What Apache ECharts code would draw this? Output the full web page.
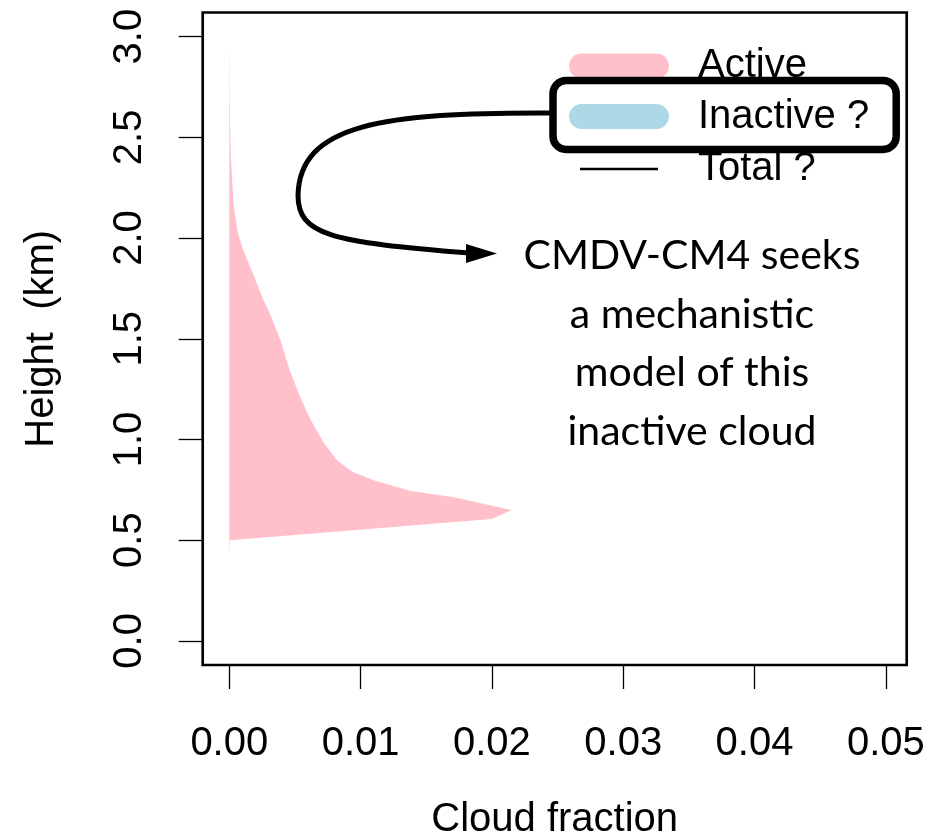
<!DOCTYPE html>
<html>
<head>
<meta charset="utf-8">
<script src="https://cdn.jsdelivr.net/npm/echarts@6/dist/echarts.min.js"></script>
<style>
  html, body { margin: 0; padding: 0; background: #fff; }
  #chart { width: 933px; height: 837px; }
</style>
</head>
<body>
<div id="chart"></div>
<script>
// Vertical profile of active cloud fraction (km above surface)
const heightKm = [0.45, 0.50, 0.605, 0.65, 0.714, 0.744, 0.798, 0.838, 0.897, 0.982,
  1.096, 1.21, 1.344, 1.493, 1.626, 1.691, 1.79, 1.855, 1.94, 2.023, 2.112, 2.187, 2.435, 2.70, 2.95];
const activeFrac = [0.00002, 0.00005, 0.0200, 0.0215, 0.0170, 0.0138, 0.0110, 0.0094, 0.0082, 0.0072,
  0.0062, 0.0054, 0.0046, 0.0039, 0.0031, 0.0026, 0.0020, 0.0016, 0.00107, 0.00066, 0.00043, 0.0003, 0.0001, 0.00003, 0.00001];

const xTicks = [0, 0.01, 0.02, 0.03, 0.04, 0.05];
const yTicks = [0, 0.5, 1.0, 1.5, 2.0, 2.5, 3.0];

const seriesNames = ['Active', 'Inactive ?', 'Total ?'];
const seriesColors = ['#FFC0CB', '#ADD8E6', '#000000'];

const noteLines = ['CMDV-CM4 seeks', 'a mechanistic', 'model of this', 'inactive cloud'];

const FONT = 'Liberation Sans, Arial, Helvetica, sans-serif';

// rounded bar icon with spare room on the right so the label sits further away
const barIcon = 'path://M0,0 M124,25 M12.5,0 L87.5,0 A12.5,12.5 0 0 1 87.5,25 L12.5,25 A12.5,12.5 0 0 1 12.5,0 Z';
const lineIcon = 'path://M0,0 M124,25 M11,11.25 L89,11.25 L89,13.75 L11,13.75 Z';

const chart = echarts.init(document.getElementById('chart'), null, { renderer: 'canvas' });

const option = {
  animation: false,
  backgroundColor: '#fff',
  grid: {
    left: 202.7, right: 26.3, top: 12.5, bottom: 172,
    outerBoundsMode: 'none',
    containLabel: false,
    show: true, borderColor: '#000', borderWidth: 2.7, backgroundColor: 'transparent'
  },
  xAxis: {
    type: 'value',
    min: -0.002026, max: 0.05159,
    name: 'Cloud fraction',
    nameLocation: 'middle',
    nameGap: 135,
    nameTextStyle: { fontSize: 40, fontFamily: FONT, color: '#000' },
    axisLine: { show: false, onZero: false },
    splitLine: { show: false },
    axisTick: { show: true, customValues: xTicks, length: 24, inside: false, lineStyle: { color: '#000', width: 1.3 } },
    axisLabel: {
      customValues: xTicks, margin: 59, fontSize: 40, fontFamily: FONT, color: '#000',
      formatter: v => v.toFixed(2)
    }
  },
  yAxis: {
    type: 'value',
    min: -0.12, max: 3.12,
    name: 'Height  (km)',
    nameLocation: 'middle',
    nameGap: 141,
    nameTextStyle: { fontSize: 40, fontFamily: FONT, color: '#000' },
    axisLine: { show: false, onZero: false },
    splitLine: { show: false },
    axisTick: { show: true, customValues: yTicks, length: 24, inside: false, lineStyle: { color: '#000', width: 1.3 } },
    axisLabel: {
      customValues: yTicks, rotate: 90, margin: 52.5, fontSize: 40, fontFamily: FONT, color: '#000',
      formatter: v => v.toFixed(1)
    }
  },
  legend: [
    {
      data: [
        { name: seriesNames[0], icon: barIcon },
        { name: seriesNames[2], icon: lineIcon }
      ],
      orient: 'vertical',
      left: 569, top: 46,
      padding: 0,
      itemWidth: 124, itemHeight: 25, itemGap: 63,
      selectedMode: false,
      z: 3,
      textStyle: { fontSize: 40, fontFamily: FONT, color: '#000' }
    },
    {
      data: [{ name: seriesNames[1], icon: barIcon }],
      orient: 'vertical',
      left: 553, top: 80.5,
      padding: [16, 27, 13, 16],
      itemWidth: 124, itemHeight: 25,
      selectedMode: false,
      backgroundColor: '#fff',
      borderColor: '#000', borderWidth: 7.5, borderRadius: 13,
      z: 8,
      textStyle: { fontSize: 40, fontFamily: FONT, color: '#000' }
    }
  ],
  graphic: [
    {
      type: 'bezierCurve',
      z: 5,
      shape: { x1: 553, y1: 113, cpx1: 380, cpy1: 112, cpx2: 300, cpy2: 125, x2: 298, y2: 195 },
      style: { fill: null, stroke: '#000', lineWidth: 5 }
    },
    {
      type: 'bezierCurve',
      z: 5,
      shape: { x1: 298, y1: 195, cpx1: 298, cpy1: 235, cpx2: 330, cpy2: 242, x2: 470, y2: 253 },
      style: { fill: null, stroke: '#000', lineWidth: 5 }
    },
    {
      type: 'polygon',
      z: 5,
      shape: { points: [[497, 253.5], [466, 244], [466, 263]] },
      style: { fill: '#000' }
    },
    {
      type: 'text',
      z: 5,
      x: 692, y: 344,
      style: {
        text: noteLines.join('\n'),
        font: '41px Lato, "Open Sans", sans-serif',
        fill: '#000',
        align: 'center',
        verticalAlign: 'middle',
        lineHeight: 58.5
      }
    }
  ],
  series: [
    {
      name: seriesNames[0],
      type: 'custom',
      itemStyle: { color: seriesColors[0] },
      data: [[0, 0]],
      renderItem: function (params, api) {
        const pts = activeFrac.map((v, i) => api.coord([v, heightKm[i]]));
        pts.push(api.coord([0, heightKm[heightKm.length - 1]]));
        pts.push(api.coord([0, heightKm[0]]));
        return { type: 'polygon', shape: { points: pts }, style: { fill: api.visual('color') } };
      }
    },
    {
      name: seriesNames[1],
      type: 'line',
      color: seriesColors[1],
      symbol: 'none',
      data: []
    },
    {
      name: seriesNames[2],
      type: 'line',
      color: seriesColors[2],
      symbol: 'none',
      lineStyle: { width: 2.5 },
      data: []
    }
  ]
};

chart.setOption(option);
</script>
</body>
</html>
